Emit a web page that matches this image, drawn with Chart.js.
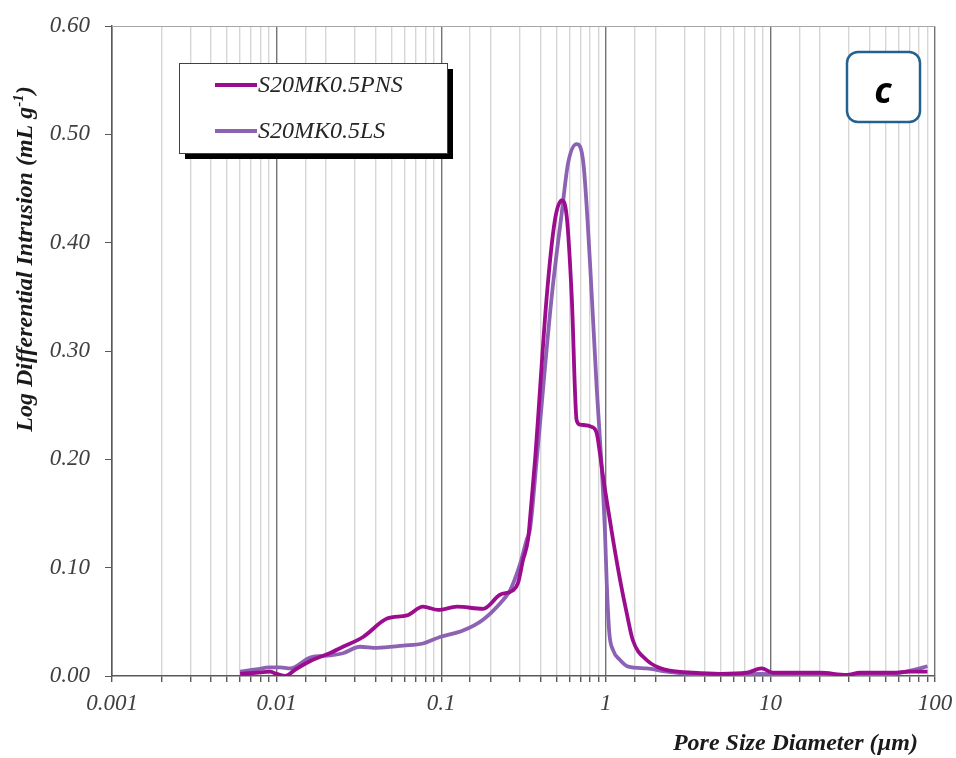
<!DOCTYPE html>
<html>
<head>
<meta charset="utf-8">
<title>Pore size distribution</title>
<script src="https://cdn.jsdelivr.net/npm/chart.js@4.4.1/dist/chart.umd.min.js"></script>
<style>
  html, body { margin: 0; padding: 0; background: #fff; }
  #wrap { width: 956px; height: 758px; }
</style>
</head>
<body>
<div id="wrap"><canvas id="psd" width="956" height="758"></canvas></div>
<script>
// ── Data ─────────────────────────────────────
const seriesNames = ['S20MK0.5PNS', 'S20MK0.5LS'];

const pnsDiameter = [0.0060, 0.0075, 0.0091, 0.0100, 0.0113, 0.0130, 0.0166, 0.0210, 0.0253, 0.0335,
  0.0469, 0.0620, 0.0775, 0.0956, 0.1247, 0.1795, 0.2275, 0.2729, 0.293, 0.314,
  0.337, 0.346, 0.3715, 0.4375, 0.491, 0.5395, 0.579, 0.621, 0.665, 0.697,
  0.820, 0.881, 0.922, 0.960, 1.013, 1.106, 1.22, 1.34, 1.46, 1.77,
  2.13, 2.45, 3.39, 4.94, 7.18, 8.85, 10.4, 20.0, 29.1, 35.0,
  55.6, 70.5, 90];
const pnsIntrusion = [0.002, 0.003, 0.004, 0.002, 0.000, 0.006, 0.015, 0.021, 0.027, 0.036,
  0.053, 0.056, 0.064, 0.061, 0.064, 0.062, 0.075, 0.079, 0.086, 0.107,
  0.126, 0.144, 0.199, 0.350, 0.421, 0.439, 0.424, 0.350, 0.236, 0.232,
  0.230, 0.224, 0.205, 0.185, 0.162, 0.126, 0.089, 0.058, 0.033, 0.0148,
  0.0074, 0.005, 0.003, 0.002, 0.003, 0.007, 0.003, 0.003, 0.001, 0.003,
  0.003, 0.004, 0.004];

const lsDiameter = [0.0060, 0.0075, 0.0091, 0.0105, 0.0121, 0.0160, 0.0211, 0.0253, 0.0321, 0.0407,
  0.0586, 0.0775, 0.0983, 0.1356, 0.1795, 0.237, 0.262, 0.301, 0.331, 0.346,
  0.380, 0.469, 0.5395, 0.591, 0.665, 0.730, 0.802, 0.881, 0.944, 0.989,
  1.013, 1.050, 1.106, 1.22, 1.37, 1.77, 2.34, 4.30, 8.65, 29.1,
  55.6, 73.5, 90];
const lsIntrusion = [0.004, 0.006, 0.008, 0.008, 0.007, 0.017, 0.019, 0.021, 0.027, 0.026,
  0.028, 0.030, 0.036, 0.042, 0.052, 0.070, 0.079, 0.103, 0.126, 0.135,
  0.199, 0.350, 0.427, 0.474, 0.491, 0.474, 0.381, 0.265, 0.193, 0.132,
  0.086, 0.040, 0.024, 0.0148, 0.0086, 0.007, 0.004, 0.001, 0.002, 0.000,
  0.002, 0.0055, 0.009];

const xDecades = [0.001, 0.01, 0.1, 1, 10, 100];
const xTickLabels = ['0.001', '0.01', '0.1', '1', '10', '100'];
const yTicks = [0.00, 0.10, 0.20, 0.30, 0.40, 0.50, 0.60];

const xTitle = 'Pore Size Diameter (\u00b5m)';
const yTitle = 'Log Differential Intrusion (mL g';
const panelLetter = 'c';

const lineColors = ['#9c0c8f', '#8c62b3'];

const toPoints = (xs, ys) => xs.map((x, i) => ({ x: x, y: ys[i] }));

const decadeIndex = v => xDecades.findIndex(d => Math.abs(Math.log10(v) - Math.log10(d)) < 1e-6);

const SERIF = '"Liberation Serif"';

// ── Overlay: axis titles, legend box, panel letter ──
const overlay = {
  id: 'overlay',
  beforeDatasetsDraw(chart) {
    const { ctx, chartArea: a } = chart;
    ctx.save();
    ctx.strokeStyle = '#a6a6a6';
    ctx.lineWidth = 1.2;
    ctx.beginPath();
    ctx.moveTo(a.left, a.top + 0.5);
    ctx.lineTo(a.right, a.top + 0.5);
    ctx.stroke();
    ctx.restore();
  },
  afterDraw(chart) {
    const ctx = chart.ctx;
    ctx.save();

    // y axis title, rotated, with superscript -1
    ctx.fillStyle = '#1a1a1a';
    ctx.translate(25, 259);
    ctx.rotate(-Math.PI / 2);
    const big = 'bold italic 24px ' + SERIF;
    const small = 'bold italic 15px ' + SERIF;
    ctx.textBaseline = 'middle';
    ctx.font = big;
    const mainW = ctx.measureText(yTitle).width;
    const closeW = ctx.measureText(')').width;
    ctx.font = small;
    const supW = ctx.measureText('-1').width;
    const tx = -(mainW + supW + closeW) / 2;
    ctx.textAlign = 'left';
    ctx.font = big;
    ctx.fillText(yTitle, tx, 1);
    ctx.font = small;
    ctx.fillText('-1', tx + mainW, -6);
    ctx.font = big;
    ctx.fillText(')', tx + mainW + supW, 1);
    ctx.setTransform(1, 0, 0, 1, 0, 0);

    // x axis title
    ctx.font = 'bold italic 24px ' + SERIF;
    ctx.textAlign = 'right';
    ctx.textBaseline = 'alphabetic';
    ctx.fillText(xTitle, 918, 750);

    // legend box with drop shadow
    const bx = 179, by = 63, bw = 268, bh = 90;
    ctx.fillStyle = '#000';
    ctx.fillRect(bx + 6, by + 6, bw, bh);
    ctx.fillStyle = '#fff';
    ctx.fillRect(bx, by, bw, bh);
    ctx.strokeStyle = '#404040';
    ctx.lineWidth = 1;
    ctx.strokeRect(bx + 0.5, by + 0.5, bw, bh);

    chart.data.datasets.forEach((ds, i) => {
      const ly = 85 + i * 46;
      ctx.strokeStyle = ds.borderColor;
      ctx.lineWidth = 3.8;
      ctx.beginPath();
      ctx.moveTo(215, ly);
      ctx.lineTo(257, ly);
      ctx.stroke();
      ctx.fillStyle = '#262626';
      ctx.font = 'italic 24px ' + SERIF;
      ctx.textAlign = 'left';
      ctx.textBaseline = 'middle';
      ctx.fillText(ds.label, 258, ly + 1);
    });

    // panel letter in rounded box
    ctx.strokeStyle = '#23618f';
    ctx.lineWidth = 2.5;
    ctx.fillStyle = '#fff';
    ctx.beginPath();
    ctx.roundRect(847, 52, 73, 70, 11);
    ctx.fill();
    ctx.stroke();
    ctx.fillStyle = '#000';
    ctx.font = 'bold italic 36px "Noto Sans"';
    ctx.textAlign = 'center';
    ctx.textBaseline = 'alphabetic';
    ctx.fillText(panelLetter, 883, 103);

    ctx.restore();
  }
};

// ── Chart ────────────────────────────────────
new Chart(document.getElementById('psd'), {
  type: 'line',
  data: {
    datasets: [
      {
        label: seriesNames[0],
        data: toPoints(pnsDiameter, pnsIntrusion),
        borderColor: lineColors[0],
        borderWidth: 3.8,
        pointRadius: 0,
        cubicInterpolationMode: 'monotone',
        fill: false
      },
      {
        label: seriesNames[1],
        data: toPoints(lsDiameter, lsIntrusion),
        borderColor: lineColors[1],
        borderWidth: 3.8,
        pointRadius: 0,
        cubicInterpolationMode: 'monotone',
        fill: false
      }
    ]
  },
  options: {
    responsive: false,
    animation: false,
    events: [],
    layout: { padding: { left: 0, right: 21, top: 26, bottom: 0 } },
    plugins: {
      legend: { display: false },
      tooltip: { enabled: false }
    },
    scales: {
      x: {
        type: 'logarithmic',
        min: xDecades[0],
        max: xDecades[xDecades.length - 1],
        // fixed axis band; labels may spill into the page margin
        afterFit: s => { s.height = 82; s.paddingLeft = 0; s.paddingRight = 0; },
        border: { color: '#595959', width: 1.5 },
        grid: {
          color: c => decadeIndex(c.tick.value) >= 0 ? '#737373' : '#d6d6d6',
          lineWidth: 1.4,
          tickColor: '#595959',
          tickLength: 6
        },
        ticks: {
          autoSkip: false,
          maxRotation: 0,
          padding: 8,
          color: '#404040',
          font: { family: 'Liberation Serif', style: 'italic', size: 23 },
          callback: v => {
            const k = decadeIndex(v);
            return k >= 0 ? xTickLabels[k] : '';
          }
        }
      },
      y: {
        type: 'linear',
        min: yTicks[0],
        max: yTicks[yTicks.length - 1],
        afterFit: s => { s.width = 112; s.paddingTop = 0; s.paddingBottom = 0; },
        afterBuildTicks: s => { s.ticks = yTicks.map(v => ({ value: v })); },
        border: { color: '#595959', width: 1.5 },
        grid: {
          drawOnChartArea: false,
          tickColor: '#595959',
          tickLength: 7
        },
        ticks: {
          padding: 15,
          color: '#404040',
          font: { family: 'Liberation Serif', style: 'italic', size: 23 },
          callback: v => v.toFixed(2)
        }
      }
    }
  },
  plugins: [overlay]
});
</script>
</body>
</html>
